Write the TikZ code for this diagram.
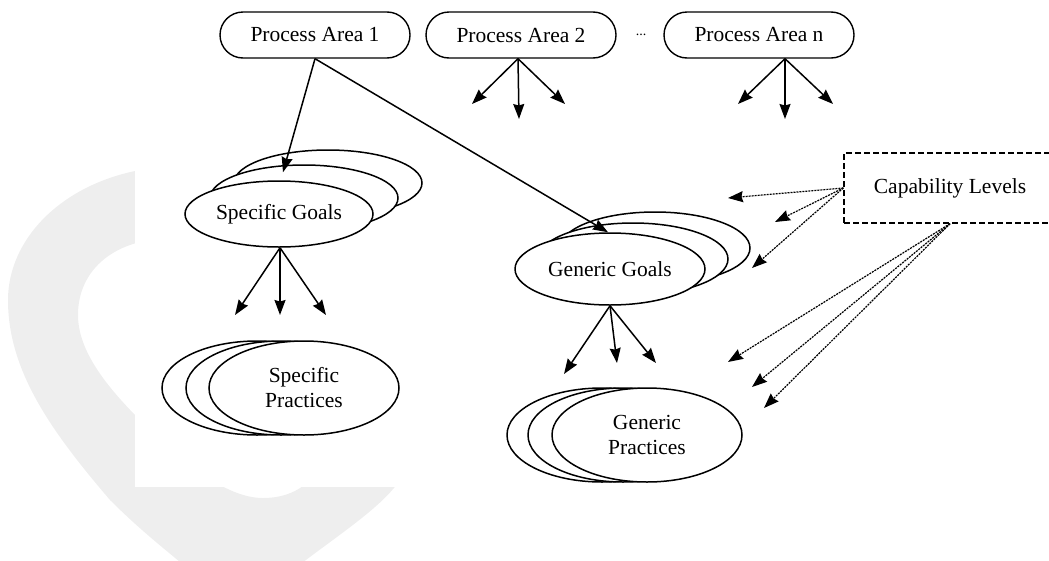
\documentclass[tikz,border=0pt]{standalone}
\usepackage{fontspec}
\setmainfont{Liberation Serif}
\usetikzlibrary{shapes.geometric,arrows.meta}
\definecolor{wm}{RGB}{238,238,238}
\begin{document}
\begin{tikzpicture}[x=1pt,y=-1pt,
  txt/.style={font=\fontsize{21.5}{25}\selectfont},
  pa/.style={txt,draw,line width=1.4pt,rounded corners=23pt,minimum width=190pt,minimum height=46pt,inner sep=0pt,fill=white},
  ell/.style={txt,draw,ellipse,line width=1.5pt,fill=white,inner sep=0pt,align=center},
  goal/.style={ell,minimum width=188pt,minimum height=66pt},
  ggoal/.style={ell,minimum width=190pt,minimum height=72pt},
  prac/.style={ell,minimum width=190pt,minimum height=94pt},
  arr/.style={line width=1.5pt,-{Stealth[length=15pt,width=11pt,inset=1.5pt]}},
  capline/.style={line width=1.2pt,dash pattern=on 2pt off 1pt,-{Stealth[length=15pt,width=11pt,inset=1.5pt]}},
]
\useasboundingbox (0,0) rectangle (1049,560);
\begin{scope}
\clip (0,0) rectangle (1049,560);
% watermark
\fill[wm,even odd rule]
  (140,170) .. controls (60,185) and (8,240) .. (8,300)
  .. controls (8,370) and (50,430) .. (110,500)
  .. controls (150,540) and (180,560) .. (200,580) -- (280,580)
  .. controls (330,540) and (380,510) .. (400,480) -- (400,170) -- cycle
  (140,242) .. controls (100,252) and (78,280) .. (78,315)
  .. controls (78,350) and (105,385) .. (140,420)
  .. controls (190,470) and (230,498) .. (263,498)
  .. controls (285,498) and (300,490) .. (310,480) -- (310,242) -- cycle;
\fill[white] (135,0) rectangle (1049,487);
% capability box
\node[txt,draw,dash pattern=on 6pt off 3pt,line width=1.4pt,minimum width=212pt,minimum height=70pt,inner sep=0pt] (cap) at (950,188) {Capability Levels};
\end{scope}

% process areas
\node[pa] (pa1) at (315,35) {Process Area 1};
\node[pa] (pa2) at (521,35) {Process Area 2};
\node[pa] (pan) at (759,35) {Process Area n};
\node[anchor=base,font=\fontsize{14}{16}\selectfont] (dots) at (641,35) {...};

% specific goals stack
\node[goal] (sg3) at (328,183) {};
\node[goal] (sg2) at (304,198) {};
\node[goal] (sg) at (279,214) {Specific Goals};

% generic goals stack
\node[ggoal] (gg3) at (655,248) {};
\node[ggoal] (gg2) at (633,259) {};
\node[ggoal] (gg) at (610,269) {Generic Goals};

% specific practices stack
\node[prac] (sp3) at (257,388) {};
\node[prac] (sp2) at (281,388) {};
\node[prac] (sp) at (304,388) {Specific\\Practices};

% generic practices stack
\node[prac] (gp3) at (602,435) {};
\node[prac] (gp2) at (623,435) {};
\node[prac] (gp) at (647,435) {Generic\\Practices};

% fan end points
\coordinate (a2l) at (472,104);
\coordinate (a2m) at (519,119);
\coordinate (a2r) at (565,104);
\coordinate (anl) at (738,104);
\coordinate (anm) at (785,119);
\coordinate (anr) at (833,104);
\coordinate (sgl) at (235,315);
\coordinate (sgm) at (280,315);
\coordinate (sgr) at (326,315);
\coordinate (ggl) at (564,374);
\coordinate (ggm) at (617,363);
\coordinate (ggr) at (656,363);
\coordinate (c1) at (728,198);
\coordinate (c2) at (775,222);
\coordinate (c3) at (752,268);
\coordinate (c4) at (728,362);
\coordinate (c5) at (752,387);
\coordinate (c6) at (764,408);

% connectors
\draw[arr] (pa1.south) -- ([shift={(4,-8)}]sg.north);
\draw[arr] (pa1.south) -- ([shift={(-2,0)}]gg.north);
\foreach \t in {a2l,a2m,a2r} \draw[arr] ([xshift=-3pt]pa2.south) -- (\t);
\foreach \t in {anl,anm,anr} \draw[arr] ([xshift=26pt]pan.south) -- (\t);
\foreach \t in {sgl,sgm,sgr} \draw[arr] ([xshift=1pt]sg.south) -- (\t);
\foreach \t in {ggl,ggm,ggr} \draw[arr] (gg.south) -- (\t);
\foreach \t in {c1,c2,c3} \draw[capline] (cap.west) -- (\t);
\foreach \t in {c4,c5,c6} \draw[capline] (cap.south) -- (\t);
\end{tikzpicture}
\end{document}
